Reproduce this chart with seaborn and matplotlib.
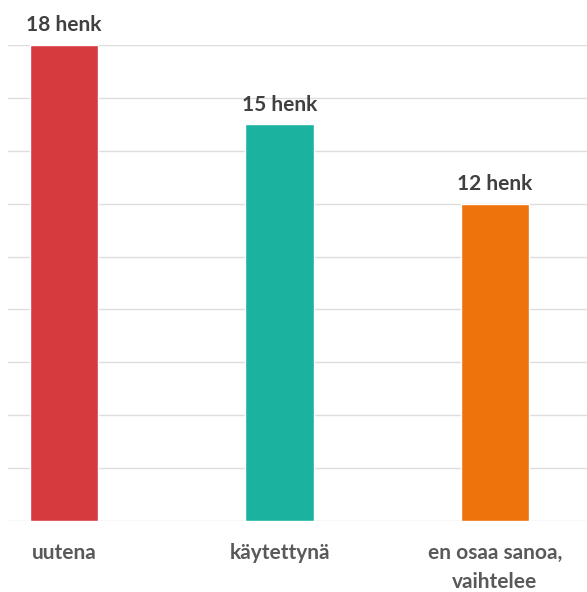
import matplotlib
matplotlib.use("Agg")
import matplotlib.pyplot as plt
import seaborn as sns
import pandas as pd

categories = ["uutena", "käytettynä", "en osaa sanoa,\nvaihtelee"]
values = [18, 15, 12]
value_labels = ["18 henk", "15 henk", "12 henk"]
colors = ["#D63A3F", "#1BB39F", "#EE730C"]

sns.set_theme(style="white")
plt.rcParams["font.family"] = ["Lato", "DejaVu Sans"]

df = pd.DataFrame({"cat": categories, "val": values})

fig = plt.figure(figsize=(5.87, 5.92), dpi=100)
ax = fig.add_axes([8 / 587, 71 / 592, 579 / 587, 476 / 592])
sns.barplot(data=df, x="cat", y="val", hue="cat", palette=colors,
            legend=False, width=0.316, ax=ax, saturation=1, zorder=3)

ax.set_ylim(0, 18)
ax.set_xlim(-0.26, 2.427)
ax.set_yticks(range(0, 19, 2))
ax.yaxis.grid(True, color="#dddddd", linewidth=1.0, zorder=0)
ax.set_axisbelow(True)
ax.tick_params(axis="y", left=False, labelleft=False)
ax.tick_params(axis="x", bottom=False, pad=10)
for lbl in ax.get_xticklabels():
    lbl.set_fontweight("bold")
    lbl.set_fontsize(15)
    lbl.set_color("#595959")
    lbl.set_linespacing(1.55)
    lbl.set_verticalalignment("top")
ax.set_xlabel("")
ax.set_ylabel("")
for s in ax.spines.values():
    s.set_visible(False)

for i, (v, t) in enumerate(zip(values, value_labels)):
    ax.annotate(t, (i, v), xytext=(0, 7), textcoords="offset points",
                ha="center", va="bottom", fontsize=15, fontweight="bold",
                color="#404040", annotation_clip=False)

fig.savefig("out.png", dpi=100)
